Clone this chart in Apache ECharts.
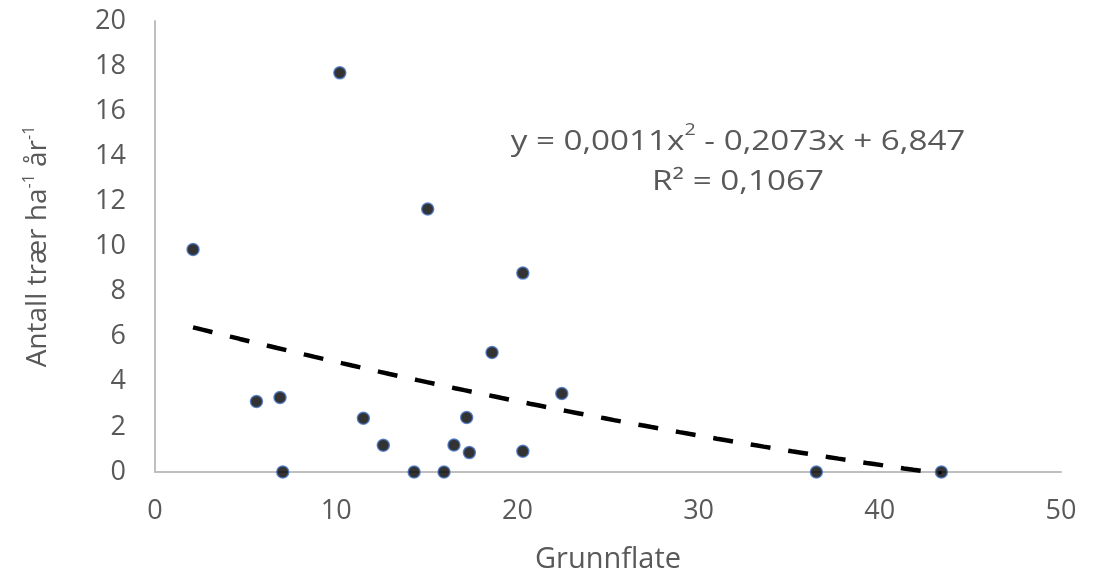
<!DOCTYPE html>
<html>
<head>
<meta charset="utf-8">
<script src="https://cdn.jsdelivr.net/npm/echarts@6/dist/echarts.min.js"></script>
<style>
  html, body { margin: 0; padding: 0; background: #ffffff; }
  #chart { width: 1109px; height: 579px; }
</style>
</head>
<body>
<div id="chart"></div>
<script>
// Basal area (Grunnflate) per plot
const grunnflate = [2.1, 5.6, 6.9, 7.05, 10.2, 11.5, 12.6, 14.3, 15.05, 15.95, 16.5, 17.2, 17.35, 18.6, 20.3, 20.3, 22.45, 36.5, 43.4];
// Number of trees per hectare per year
const antallTraer = [9.87, 3.13, 3.3, 0, 17.7, 2.38, 1.19, 0, 11.66, 0, 1.2, 2.42, 0.86, 5.3, 8.82, 0.92, 3.48, 0, 0];
// Polynomial trendline coefficients: a*x^2 + b*x + c
const trendCoef = [0.0011, -0.2073, 6.847];
const trendR2 = '0,1067';
const xTicks = [0, 10, 20, 30, 40, 50];
const yTicks = [0, 2, 4, 6, 8, 10, 12, 14, 16, 18, 20];

const FONT = '"Open Sans", "Noto Sans", sans-serif';
const GREY = '#595959';

const points = grunnflate.map((x, i) => [x, antallTraer[i]]);

// Trendline drawn across the observed x range
const xMin = Math.min(...grunnflate);
const xMax = Math.max(...grunnflate);
const trend = [];
const steps = 80;
for (let i = 0; i <= steps; i++) {
  const x = xMin + (xMax - xMin) * i / steps;
  trend.push([x, trendCoef[0] * x * x + trendCoef[1] * x + trendCoef[2]]);
}

const fmt = v => String(v).replace('.', ',');
const eqText = '{m|y = ' + fmt(trendCoef[0]) + 'x}{s|2}{m| - ' + fmt(Math.abs(trendCoef[1])) +
  'x + ' + fmt(trendCoef[2]) + '}';

const chart = echarts.init(document.getElementById('chart'), null, { renderer: 'canvas' });
chart.setOption({
  animation: false,
  backgroundColor: '#ffffff',
  grid: { left: 155, right: 48, top: 21, bottom: 105, containLabel: false },
  xAxis: {
    type: 'value',
    min: xTicks[0],
    max: xTicks[xTicks.length - 1],
    interval: xTicks[1] - xTicks[0],
    name: 'Grunnflate',
    nameLocation: 'middle',
    nameGap: 73,
    nameTextStyle: { fontFamily: FONT, fontSize: 29, color: GREY },
    axisLine: { show: true, lineStyle: { color: '#bfbfbf', width: 2 } },
    axisTick: { show: false },
    splitLine: { show: false },
    axisLabel: { fontFamily: FONT, fontSize: 27, color: GREY, margin: 26 }
  },
  yAxis: {
    type: 'value',
    min: yTicks[0],
    max: yTicks[yTicks.length - 1],
    interval: yTicks[1] - yTicks[0],
    name: '{m|Antall trær ha}{s|-1}{m| år}{s|-1}',
    nameLocation: 'middle',
    nameGap: 100,
    nameRotate: 90,
    nameTextStyle: {
      color: GREY,
      rich: {
        m: { fontFamily: FONT, fontSize: 28, color: GREY, lineHeight: 34 },
        s: { fontFamily: FONT, fontSize: 16, color: GREY, verticalAlign: 'top', lineHeight: 20 }
      }
    },
    axisLine: { show: true, lineStyle: { color: '#bfbfbf', width: 2 } },
    axisTick: { show: false },
    splitLine: { show: false },
    axisLabel: { fontFamily: FONT, fontSize: 27, color: GREY, margin: 29 }
  },
  graphic: [
    {
      type: 'text',
      x: 738,
      y: 122,
      scaleX: 1.23,
      z: 10,
      style: {
        text: eqText + '\n{m|R² = ' + trendR2 + '}',
        align: 'center',
        rich: {
          m: { fontFamily: FONT, fontSize: 27, fill: GREY, color: GREY, lineHeight: 40, align: 'center' },
          s: { fontFamily: FONT, fontSize: 16, fill: GREY, color: GREY, verticalAlign: 'top', lineHeight: 26 }
        }
      }
    }
  ],
  series: [
    {
      type: 'line',
      data: trend,
      showSymbol: false,
      symbol: 'none',
      smooth: false,
      z: 2,
      lineStyle: { color: '#000000', width: 4.5, type: [20, 18] }
    },
    {
      type: 'scatter',
      data: points,
      symbol: 'circle',
      symbolSize: 12,
      z: 3,
      itemStyle: { color: '#000000', borderColor: '#4472c4', borderWidth: 1.5 }
    }
  ]
});
</script>
</body>
</html>
